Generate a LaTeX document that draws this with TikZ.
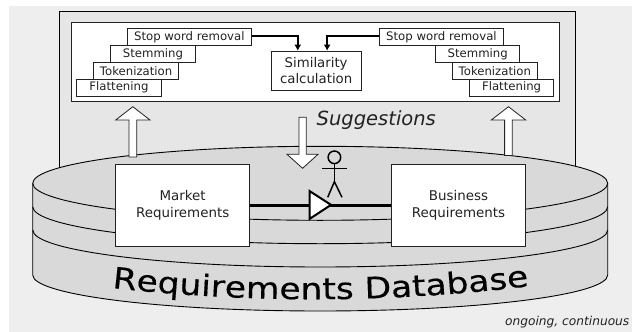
\documentclass[tikz,border=0pt]{standalone}
\usepackage{fontspec}
\setmainfont{DejaVu Sans}
\newfontfamily\bigf[FakeStretch=1.17,FakeBold=0.35]{DejaVu Sans}
\usetikzlibrary{decorations.text,arrows.meta}
\definecolor{bgc}{HTML}{EEEEEE}
\definecolor{panelc}{HTML}{E6E6E6}
\definecolor{diskc}{HTML}{D9D9D9}
\definecolor{inkc}{HTML}{222222}
\tikzset{
  stepbox/.style={draw=inkc,fill=white,line width=0.9pt,text=inkc,inner sep=0pt,anchor=north west,font=\fontsize{11.7}{14}\selectfont},
  bigbox/.style={draw=inkc,fill=white,line width=1pt,text=inkc,inner sep=0pt,align=center,anchor=north west,font=\fontsize{13.4}{17}\selectfont},
  hollow/.style={draw=inkc,fill=white,line width=0.8pt,line join=miter},
  conn/.style={draw=black,line width=1.8pt,-{Latex[length=6pt,width=7pt]}},
  heavy/.style={draw=black,line width=2.5pt},
  diskline/.style={draw=black,line width=0.9pt},
  person/.style={draw=black,line width=1.5pt}
}
\begin{document}
\begin{tikzpicture}[x=1pt,y=-1pt]
\useasboundingbox (0,0) rectangle (632,332);
\fill[white] (0,0) rectangle (632,332);
\fill[bgc] (9,6) rectangle (632,332);
\draw[draw=black,line width=0.9pt,fill=panelc] (59.7,170) -- (59.7,11.3) -- (575.7,11.3) -- (575.7,170);
\node[draw=inkc,fill=white,line width=0.9pt,minimum width=488.3pt,minimum height=78.4pt,anchor=north west,inner sep=0pt] (inner) at (70.7,22.3) {};
% left stack
\node[stepbox,minimum width=84.4pt,minimum height=17pt] (fl) at (76.3,78.7) {Flattening};
\node[stepbox,minimum width=84.7pt,minimum height=16.7pt] (tl) at (93.3,62) {Tokenization};
\node[stepbox,minimum width=84.4pt,minimum height=17pt] (sl) at (110.3,45) {Stemming};
\node[stepbox,minimum width=123.7pt,minimum height=16.7pt] (wl) at (127,28.3) {Stop word removal};
% right stack
\node[stepbox,minimum width=84.3pt,minimum height=17pt] (fr) at (469,78.7) {Flattening};
\node[stepbox,minimum width=84.7pt,minimum height=16.7pt] (tr) at (452,62) {Tokenization};
\node[stepbox,minimum width=84pt,minimum height=17pt] (sr) at (435.3,45) {Stemming};
\node[stepbox,minimum width=123.4pt,minimum height=16.7pt] (wr) at (379.3,28.3) {Stop word removal};
% similarity
\node[bigbox,line width=0.9pt,font=\fontsize{13.3}{16}\selectfont,minimum width=90pt,minimum height=39.3pt] (sim) at (270.7,50.7) {Similarity\\calculation};
\draw[conn] ([yshift=1.2pt]wl.east) -| ([xshift=-18.4pt]sim.north);
\draw[conn] ([yshift=1.2pt]wr.west) -| ([xshift=11pt]sim.north);
% disk
\fill[diskc] (32.7,183.3) -- (32.7,275) arc[start angle=180,end angle=360,x radius=287.5,y radius=-36] -- (607.7,183.3) arc[start angle=0,end angle=180,x radius=287.5,y radius=-37] -- cycle;
\draw[diskline] (32.7,183.3) -- (32.7,275) arc[start angle=180,end angle=360,x radius=287.5,y radius=-36] -- (607.7,183.3) arc[start angle=0,end angle=180,x radius=287.5,y radius=-37];
\draw[diskline] (32.7,183.3) arc[start angle=180,end angle=360,x radius=287.5,y radius=-37];
\draw[diskline] (32.7,206.7) arc[start angle=180,end angle=360,x radius=287.5,y radius=-37];
\draw[diskline] (32.7,230) arc[start angle=180,end angle=360,x radius=287.5,y radius=-37];
% hollow arrows
\draw[hollow] (129,157) -- (129,120) -- (115.7,120) -- (132.85,106.7) -- (150,120) -- (136.7,120) -- (136.7,157) -- cycle;
\draw[hollow] (504.6,155.5) -- (504.6,120) -- (491.3,120) -- (508.5,106.7) -- (525.7,120) -- (512.3,120) -- (512.3,155.5) -- cycle;
\draw[hollow] (299,117.3) -- (299,154.3) -- (287,154.3) -- (302.6,168.3) -- (318,154.3) -- (306.3,154.3) -- (306.3,117.3) -- cycle;
% labels
\node[inner sep=0pt,text=inkc,anchor=west,font=\fontsize{19.5}{22}\selectfont\itshape] (sug) at (316.5,120) {Suggestions};
\node[inner sep=0pt,text=inkc,anchor=east,font=\fontsize{12.2}{14}\selectfont\itshape] (ong) at (629.5,322.5) {ongoing, continuous};
% boxes
\node[bigbox,minimum width=134.3pt,minimum height=82.3pt] (mk) at (115,163.7) {Market\\Requirements};
\node[bigbox,minimum width=134.6pt,minimum height=82.3pt] (bz) at (390.7,163.7) {Business\\Requirements};
% connector through the triangle
\draw[heavy] (mk.east) -- (bz.west);
\coordinate (ta) at (309.5,191);
\coordinate (tb) at (309.5,219);
\coordinate (tc) at (331,204.85);
\draw[draw=black,fill=white,line width=2pt,line join=miter] (ta) -- (tc) -- (tb) -- cycle;
% person
\draw[person] (334.4,157.3) circle[radius=6.3];
\coordinate (neck) at (334.4,163.6);
\coordinate (hip) at (334.4,181.7);
\draw[person] (neck) -- (hip);
\draw[person] (322.3,168.3) -- (346.7,168.3);
\draw[person] (327.7,197.3) -- (hip) -- (342,197.3);
% title
\path[decorate,decoration={text along path,text align=center,text={|\bigf\fontsize{29.5}{30}\selectfont\color{black}|Requirements Database}}]
  (95,286) .. controls (245,304) and (395,304) .. (546,284);
\end{tikzpicture}
\end{document}
